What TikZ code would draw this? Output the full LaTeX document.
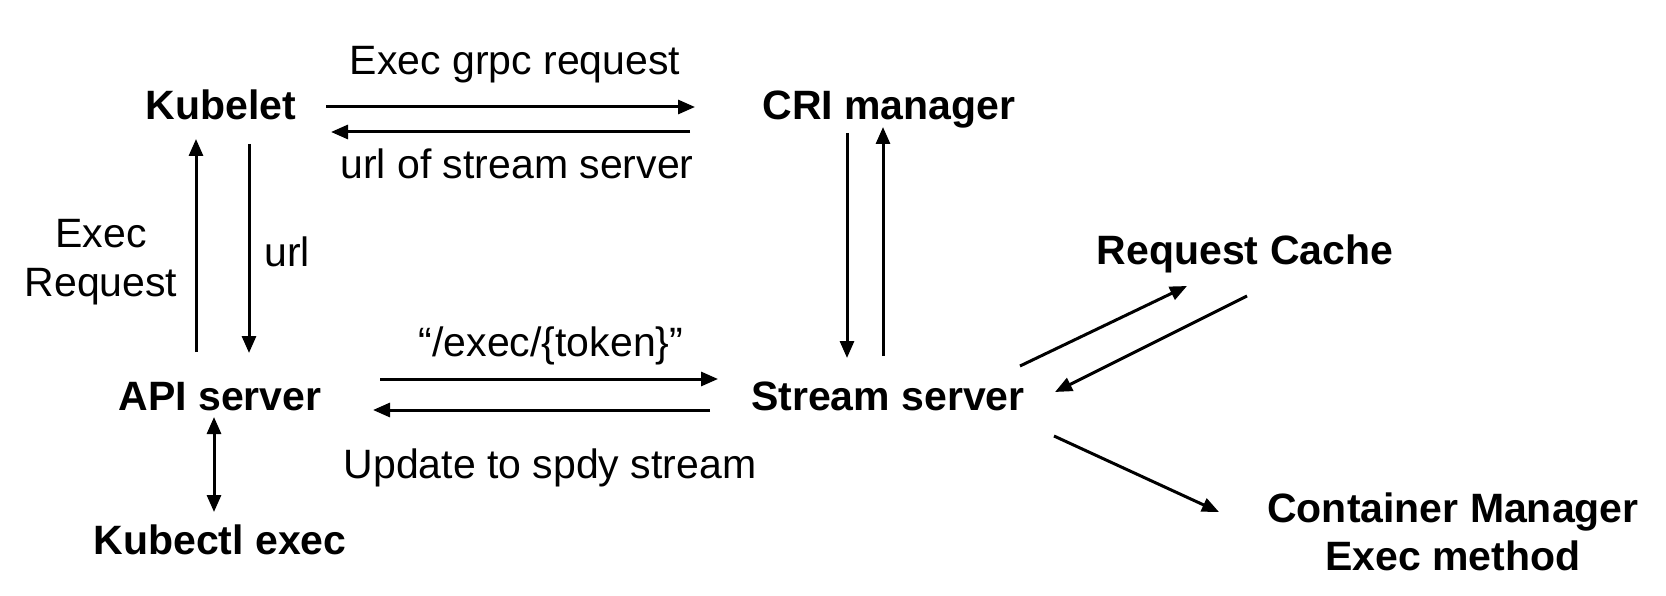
\documentclass[tikz,border=0pt]{standalone}
\usepackage{fontspec}
\setmainfont{Liberation Sans}
\usetikzlibrary{arrows.meta}
\tikzset{
  box/.style={font=\fontsize{41}{48}\selectfont\bfseries, inner sep=0pt, anchor=base, align=center},
  lbl/.style={font=\fontsize{41}{50}\selectfont, inner sep=0pt, anchor=base, align=center},
  conn/.style={line width=3pt, -{Triangle[length=17pt,width=14pt]}},
  dconn/.style={line width=3pt, {Triangle[length=17pt,width=14pt]}-{Triangle[length=17pt,width=14pt]}}
}
\begin{document}
\begin{tikzpicture}[x=1pt,y=-1pt]
\useasboundingbox (0,0) rectangle (1666,596);
\fill[white] (0,0) rectangle (1666,596);
% nodes
\node[box] (kubelet) at (221,120) {Kubelet};
\node[box] (cri) at (889,120) {CRI manager};
\node[box] (api) at (220,410) {API server};
\node[box] (stream) at (888,410) {Stream server};
\node[box] (kubectl) at (220,554) {Kubectl exec};
\node[box] (cache) at (1245,265) {Request Cache};
\node[box] (cm) at (1453,570) {Container Manager\\Exec method};
% labels
\node[lbl] (l1) at (515,75) {Exec grpc request};
\node[lbl] (l2) at (517,179) {url of stream server};
\node[lbl] (l3) at (101,297) {Exec\\Request};
\node[lbl] (l4) at (287,267) {url};
\node[lbl] (l5) at (551,356) {“/exec/\{token\}”};
\node[lbl] (l6) at (550,478) {Update to spdy stream};
% connector end points
\coordinate (a1s) at (326,107); \coordinate (a1e) at (695,107);
\coordinate (a2s) at (690,132); \coordinate (a2e) at (331,132);
\coordinate (a3s) at (196,352); \coordinate (a3e) at (196,139);
\coordinate (a4s) at (249,144); \coordinate (a4e) at (249,353);
\coordinate (a5s) at (847,133); \coordinate (a5e) at (847,358);
\coordinate (a6s) at (883,356); \coordinate (a6e) at (883,127);
\coordinate (a7s) at (380,379); \coordinate (a7e) at (718,379);
\coordinate (a8s) at (710,410); \coordinate (a8e) at (373,410);
\coordinate (a9s) at (214,417); \coordinate (a9e) at (214,512);
\coordinate (a10s) at (1020,366); \coordinate (a10e) at (1187,286);
\coordinate (a11s) at (1247,296); \coordinate (a11e) at (1055,392);
\coordinate (a12s) at (1054,436); \coordinate (a12e) at (1219,512);
% connectors
\draw[conn] (a1s) -- (a1e);
\draw[conn] (a2s) -- (a2e);
\draw[conn] (a3s) -- (a3e);
\draw[conn] (a4s) -- (a4e);
\draw[conn] (a5s) -- (a5e);
\draw[conn] (a6s) -- (a6e);
\draw[conn] (a7s) -- (a7e);
\draw[conn] (a8s) -- (a8e);
\draw[dconn] (a9s) -- (a9e);
\draw[conn] (a10s) -- (a10e);
\draw[conn] (a11s) -- (a11e);
\draw[conn] (a12s) -- (a12e);
\end{tikzpicture}
\end{document}
